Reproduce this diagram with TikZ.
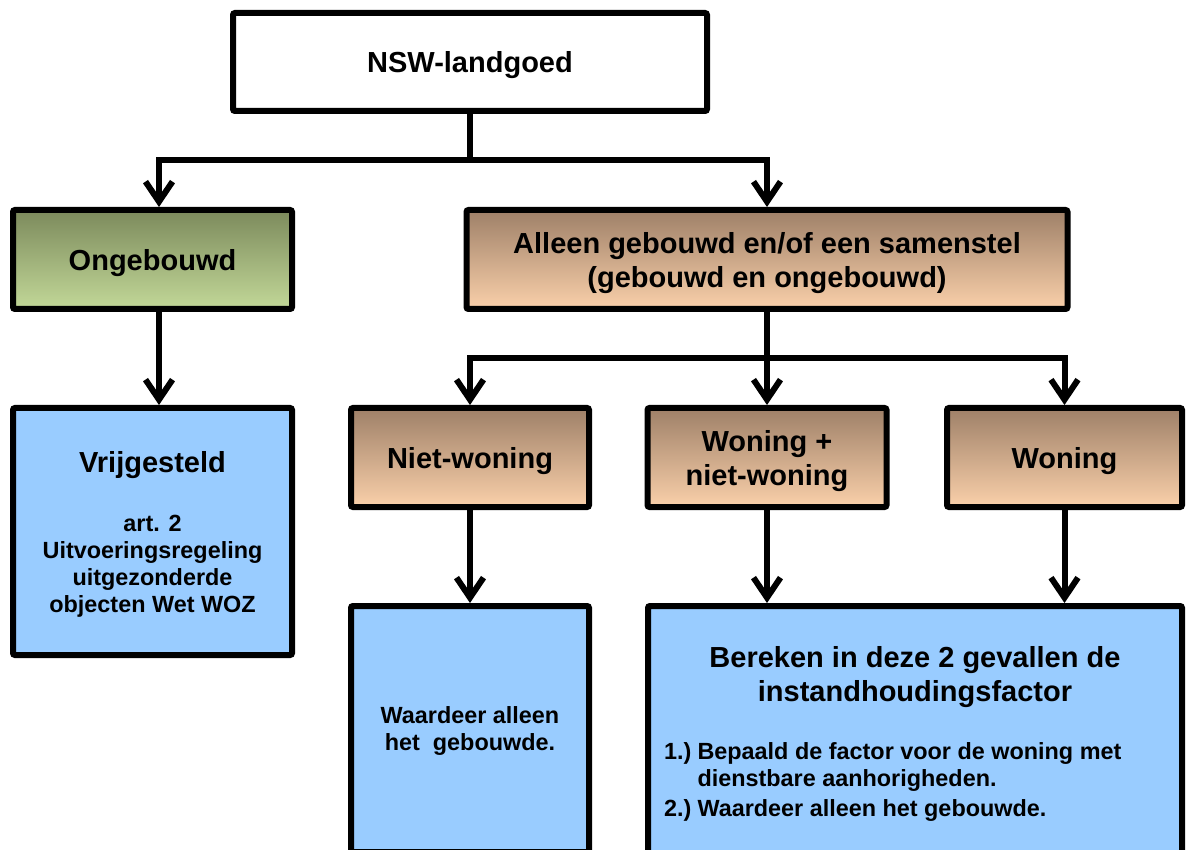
\documentclass[tikz,border=0pt]{standalone}
\usepackage{fontspec}
\setmainfont{Liberation Sans}
\usetikzlibrary{arrows.meta,calc}
\definecolor{blueF}{RGB}{153,204,255}
\definecolor{greenT}{RGB}{124,138,92}
\definecolor{greenB}{RGB}{194,216,152}
\definecolor{brownT}{RGB}{158,128,104}
\definecolor{brownB}{RGB}{250,208,170}
\begin{document}
\begin{tikzpicture}[x=1pt,y=-1pt,
  bigfont/.style={font=\bfseries\fontsize{29}{34}\selectfont},
  small/.style={font=\bfseries\fontsize{23.4}{27}\selectfont},
  box/.style={draw=black,line width=6pt,rounded corners=2pt,inner sep=0pt,align=center,bigfont,text depth=0pt},
  plainbox/.style={box,fill=white},
  greenbox/.style={box,top color=greenT,bottom color=greenB},
  brownbox/.style={box,top color=brownT,bottom color=brownB},
  bluebox/.style={box,fill=blueF},
  label/.style={inner sep=0pt,align=center},
  conn/.style={line width=6pt},
  arr/.style={conn,-{Straight Barb[length=20pt,width=27pt]}},
]
\path[use as bounding box, clip] (0,0) rectangle (1187,850);

% boxes
\node[plainbox, minimum width=474pt, minimum height=98pt] (nsw) at (470,62) {NSW-landgoed};
\node[greenbox, minimum width=279pt, minimum height=99pt] (ong) at (152.5,259.5) {Ongebouwd};
\node[brownbox, minimum width=601pt, minimum height=99pt] (all) at (767,259.5) {Alleen gebouwd en/of een samenstel\\(gebouwd en ongebouwd)};
\node[bluebox, minimum width=279pt, minimum height=247pt] (vrij) at (152.5,531.5) {};
\node[label, bigfont] (vrijt) at (152.5,465) {Vrijgesteld};
\node[label, small] (vrijs) at (152.5,566) {art. 2\\Uitvoeringsregeling\\uitgezonderde\\objecten Wet WOZ};
\node[brownbox, minimum width=238pt, minimum height=99pt] (niet) at (470,457.5) {Niet-woning};
\node[brownbox, minimum width=239pt, minimum height=99pt] (wn) at (767,457.5) {Woning +\\niet-woning};
\node[brownbox, minimum width=235pt, minimum height=99pt] (won) at (1064.5,457.5) {Woning};
\node[bluebox, small, minimum width=238pt, minimum height=246pt] (waard) at (470,729) {Waardeer alleen\\het\ \ gebouwde.};
\node[bluebox, minimum width=534pt, minimum height=280pt] (ber) at (915,746) {};
\node[label, bigfont] (bert) at (915,677) {Bereken in deze 2 gevallen de\\instandhoudingsfactor};
\node[label, small, anchor=west] (berl) at (664,783) {\begin{tabular}{@{}l@{\hspace{6pt}}l@{}}1.)&Bepaald de factor voor de woning met\\&dienstbare aanhorigheden.\\[3pt]2.)&Waardeer alleen het gebouwde.\end{tabular}};

% connectors
\coordinate (j1) at (470,160);
\coordinate (c1) at (159,160);
\coordinate (j2) at (767,358);
\draw[conn] (nsw.south) -- (j1);
\draw[arr] (j1) -- (c1) -- (c1 |- ong.north);
\draw[arr] (j1) -| (all.north);
\draw[arr] (c1 |- ong.south) -- (c1 |- vrij.north);
\draw[conn] (all.south) -- (j2);
\draw[arr] (j2) -| (niet.north);
\draw[arr] (j2) -- (wn.north);
\draw[arr] (j2) -| (won.north);
\draw[arr] (niet.south) -- (waard.north);
\draw[arr] (wn.south) -- (wn.south |- ber.north);
\draw[arr] (won.south) -- (won.south |- ber.north);
\end{tikzpicture}
\end{document}
